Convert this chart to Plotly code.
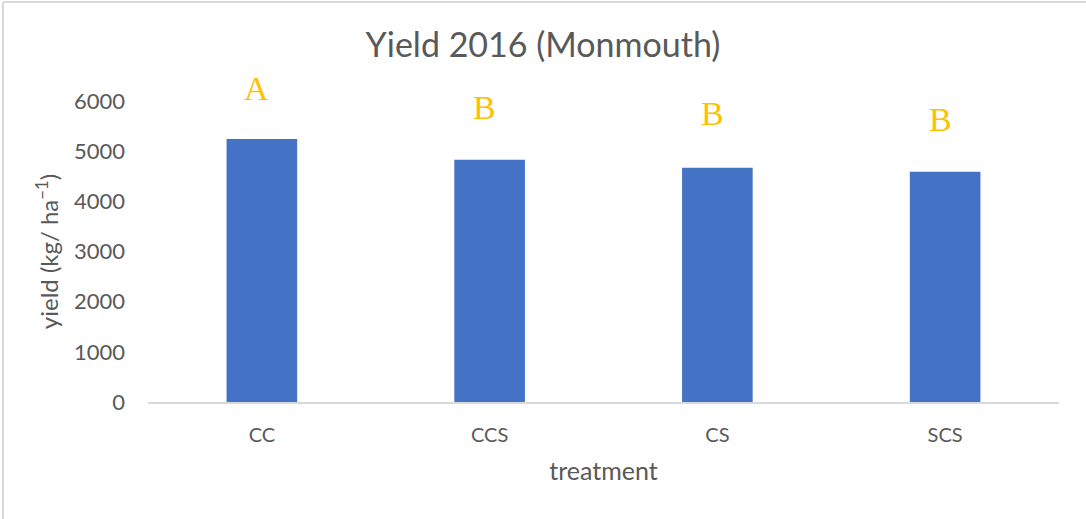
import plotly.graph_objects as go

categories = ["CC", "CCS", "CS", "SCS"]
yield_values = [5245, 4830, 4670, 4590]
letters = ["A", "B", "B", "B"]
letter_y = [6250, 5880, 5760, 5640]
y_ticks = [0, 1000, 2000, 3000, 4000, 5000, 6000]
y_max = 6000

grey = "#595959"
W, H = 1086, 519
L, R, T, B = 148, 27, 101, 117
pw, ph = W - L - R, H - T - B
px_per_unit = ph / y_max

fig = go.Figure()
fig.add_trace(go.Bar(x=categories, y=yield_values, marker=dict(color="#4472C4", line=dict(width=0))))

for c, t, yv in zip(categories, letters, letter_y):
    yin = min(yv, y_max)
    fig.add_annotation(x=c, y=yin, xref="x", yref="y", text=t, showarrow=False,
                       xshift=-5, yshift=(yv - yin) * px_per_unit, yanchor="middle",
                       font=dict(family="Liberation Serif", size=34, color="#FFC000"))


def px(x):
    return (x - L) / pw


def py(y):
    return (H - B - y) / ph


fig.add_shape(type="line", xref="paper", yref="paper", x0=px(3), x1=px(3), y0=py(2), y1=py(530),
              line=dict(color="#D9D9D9", width=2))
fig.add_shape(type="line", xref="paper", yref="paper", x0=px(3), x1=px(1100), y0=py(2), y1=py(2),
              line=dict(color="#D9D9D9", width=2))

fig.update_layout(
    width=W, height=H,
    margin=dict(l=L, r=R, t=T, b=B),
    paper_bgcolor="white", plot_bgcolor="white",
    font=dict(family="Lato", color=grey),
    title=dict(text="Yield 2016 (Monmouth)", x=0.5, xref="container", xanchor="center",
               y=1 - 45 / H, yref="container", yanchor="middle",
               font=dict(family="Lato", size=34, color=grey)),
    bargap=0.69,
    showlegend=False,
    xaxis=dict(showgrid=False, showline=True, linecolor="#D9D9D9", linewidth=1.5,
               ticks="", tickfont=dict(size=20, color=grey), ticklabelstandoff=14,
               title=dict(text="treatment", font=dict(size=25, color=grey), standoff=18)),
    yaxis=dict(range=[0, y_max], tickvals=y_ticks, showgrid=False, showline=False, zeroline=False,
               ticks="", tickfont=dict(size=22, color=grey), ticklabelstandoff=22,
               title=dict(text="yield (kg/ ha<sup>−1</sup>)", font=dict(size=24, color=grey), standoff=8)),
)

fig.write_html("out.html", config={"displayModeBar": False},
               post_script="document.body.style.margin='0';")
